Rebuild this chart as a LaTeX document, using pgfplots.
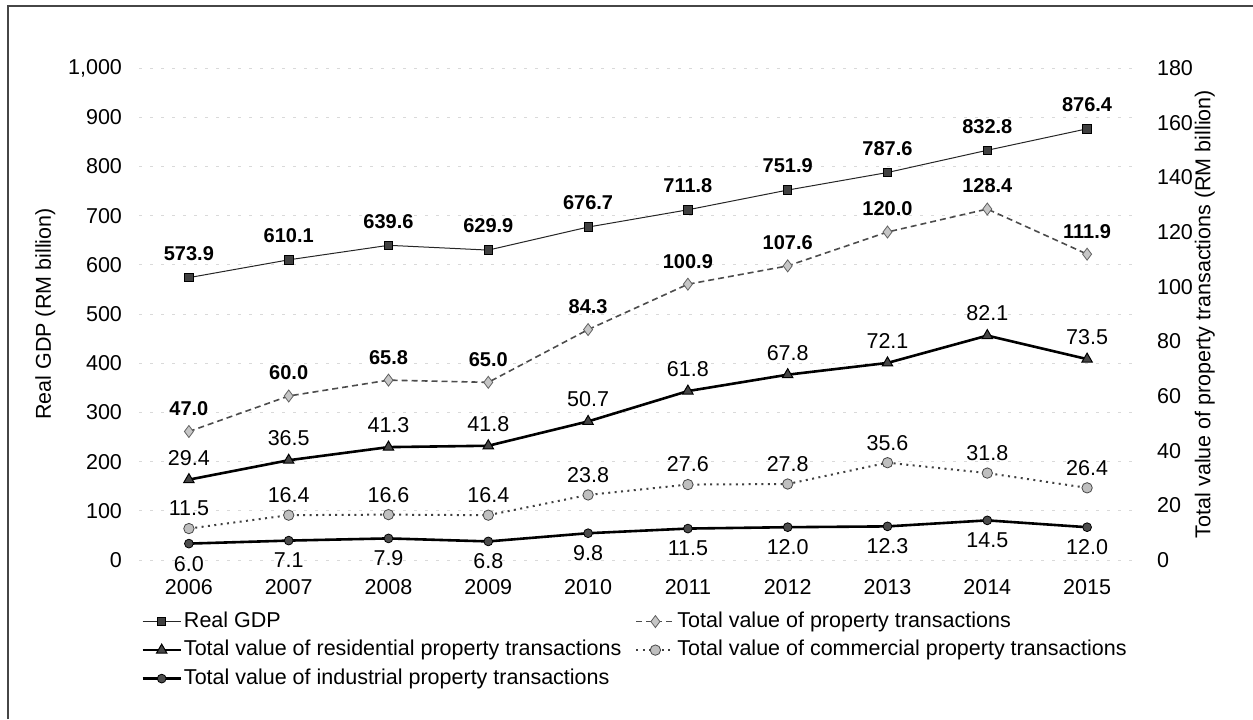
\documentclass[border=0pt]{standalone}
\usepackage{fontspec}
\setmainfont{Liberation Sans}
\usepackage{pgfplots}
\usepackage{pgfplotstable}
\pgfplotsset{compat=1.18}

% Malaysia: real GDP and value of property transactions, RM billion
\pgfplotstableread{
x gdp   prop  res  com  ind
0 573.9  47.0 29.4 11.5  6.0
1 610.1  60.0 36.5 16.4  7.1
2 639.6  65.8 41.3 16.6  7.9
3 629.9  65.0 41.8 16.4  6.8
4 676.7  84.3 50.7 23.8  9.8
5 711.8 100.9 61.8 27.6 11.5
6 751.9 107.6 67.8 27.8 12.0
7 787.6 120.0 72.1 35.6 12.3
8 832.8 128.4 82.1 31.8 14.5
9 876.4 111.9 73.5 26.4 12.0
}\propdata

\pgfplotsset{
  base/.style={
    width=499pt, height=246pt, scale only axis,
    at={(69.5pt,79.5pt)}, anchor=south west,
    xmin=-0.5, xmax=9.5, xtick={0,...,9},
    xticklabels={2006,2007,2008,2009,2010,2011,2012,2013,2014,2015},
    axis line style={draw=none}, major tick length=0pt,
    /pgf/number format/assume math mode=true,
    clip=false,
    legend image code/.code={%
      \draw[mark repeat=2,mark phase=2,##1] plot coordinates {(0pt,0pt) (9.5pt,0pt) (19pt,0pt)};},
  },
  lbl/.style={
    nodes near coords={\pgfmathprintnumber[fixed,fixed zerofill,precision=1]{\pgfplotspointmeta}},
    every node near coord/.append style={anchor=center, yshift=#1, text=black, inner sep=0pt},
  },
  gdpstyle/.style={black!85, line width=0.5pt, mark=square*, mark size=2.1pt,
    mark options={solid, fill=black!75, draw=black, line width=0.4pt}},
  propstyle/.style={gray!60!black, line width=0.8pt, dash pattern=on 3pt off 2pt,
    mark=diamond*, mark size=3pt,
    mark options={solid, fill=gray!45, draw=gray!75!black, line width=0.4pt}},
  resstyle/.style={black, line width=1.3pt, mark=triangle*, mark size=3pt,
    mark options={solid, fill=gray!55!black, draw=black, line width=0.5pt}},
  comstyle/.style={black!75, line width=1pt, dash pattern=on 1pt off 2.2pt,
    mark=*, mark size=2.6pt,
    mark options={solid, fill=gray!50, draw=gray!55!black, line width=0.4pt}},
  indstyle/.style={black, line width=1.3pt, mark=*, mark size=2.2pt,
    mark options={solid, fill=black!70, draw=black, line width=0.4pt}},
}

\begin{document}
\begin{tikzpicture}[font=\fontsize{10.75}{12.9}\selectfont]
\path[use as bounding box] (0pt,0pt) rectangle (626.5pt,359.5pt);
\draw[gray!55!black, line width=0.8pt] (4pt,0pt) -- (4pt,356.5pt) -- (626.5pt,356.5pt);

% left axis: real GDP
\begin{axis}[base,
  ymin=0, ymax=1000, ytick={0,100,...,1000},
  /pgf/number format/1000 sep={,},
  ymajorgrids, grid style={gray!30, line width=0.4pt, dash pattern=on 1.5pt off 4pt},
  yticklabel style={xshift=-5pt},
  xticklabel style={yshift=-6pt},
  ylabel={Real GDP (RM billion)},
  every axis y label/.style={at={(axis description cs:-0.094,0.5)}, rotate=90, anchor=center},
]
\addplot[gdpstyle, lbl=12pt, every node near coord/.append style={font=\bfseries}]
  table[x=x, y=gdp] {\propdata};
\end{axis}

% right axis: property transactions
\begin{axis}[base,
  ymin=0, ymax=180, ytick={0,20,...,180},
  hide x axis,
  yticklabel pos=right,
  yticklabel style={xshift=6.5pt},
  ylabel={Total value of property transactions (RM billion)},
  every axis y label/.style={at={(axis description cs:1.068,0.5)}, rotate=90, anchor=center},
  legend columns=2,
  legend cell align=left,
  legend style={at={(axis description cs:0.002,-0.099)}, anchor=north west,
    draw=none, fill=none, inner sep=0pt, row sep=1.75pt,
    nodes={inner sep=1pt, text height=8pt, text depth=2.5pt},
    /tikz/every even column/.append style={column sep=6pt}},
]
\addlegendimage{gdpstyle}
\addlegendentry{Real GDP}
\addplot[propstyle, lbl=11.5pt, every node near coord/.append style={font=\bfseries}]
  table[x=x, y=prop] {\propdata};
\addlegendentry{Total value of property transactions}
\addplot[resstyle, lbl=11pt] table[x=x, y=res] {\propdata};
\addlegendentry{Total value of residential property transactions}
\addplot[comstyle, lbl=10pt] table[x=x, y=com] {\propdata};
\addlegendentry{Total value of commercial property transactions}
\addplot[indstyle, lbl=-10pt] table[x=x, y=ind] {\propdata};
\addlegendentry{Total value of industrial property transactions}
\end{axis}
\end{tikzpicture}
\end{document}
